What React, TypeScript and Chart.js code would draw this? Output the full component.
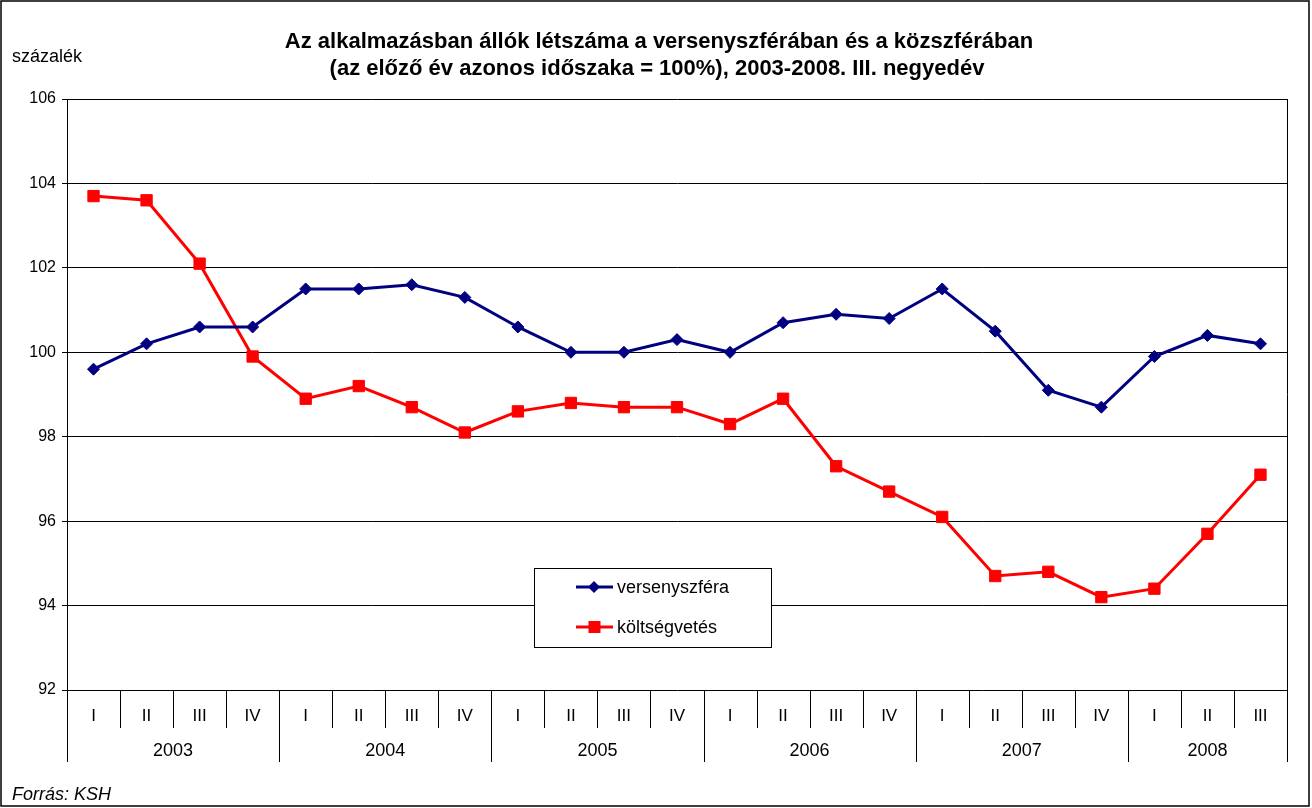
import React, { useEffect, useRef } from "react";
import { Chart, registerables } from "chart.js";

Chart.register(...registerables);

const quarters = ["I","II","III","IV","I","II","III","IV","I","II","III","IV","I","II","III","IV","I","II","III","IV","I","II","III"];
const years = ["2003","2004","2005","2006","2007","2008"];
const yearSpans = [4, 4, 4, 4, 4, 3];
const versenyszfera = [99.6,100.2,100.6,100.6,101.5,101.5,101.6,101.3,100.6,100.0,100.0,100.3,100.0,100.7,100.9,100.8,101.5,100.5,99.1,98.7,99.9,100.4,100.2];
const koltsegvetes = [103.7,103.6,102.1,99.9,98.9,99.2,98.7,98.1,98.6,98.8,98.7,98.7,98.3,98.9,97.3,96.7,96.1,94.7,94.8,94.2,94.4,95.7,97.1];
const seriesNames = ["versenyszféra", "költségvetés"];
const titleLines = ["Az alkalmazásban állók létszáma a versenyszférában és a közszférában", "(az előző év azonos időszaka = 100%), 2003-2008. III. negyedév"];
const yUnit = "százalék";
const source = "Forrás: KSH";

const FONT = "'Liberation Sans', Arial, sans-serif";
const BLUE = "#000080";
const RED = "#FF0000";

export default function App() {
  const ref = useRef<HTMLCanvasElement>(null);
  useEffect(() => {
    const canvas = ref.current!;
    const deco = {
      id: "deco",
      beforeDraw(chart: any) {
        const c = chart.ctx;
        c.save();
        c.fillStyle = "#fff";
        c.fillRect(0, 0, chart.width, chart.height);
        c.restore();
      },
      afterDraw(chart: any) {
        const c = chart.ctx;
        const x = chart.scales.x;
        const area = chart.chartArea;
        c.save();
        // outer frame
        c.strokeStyle = "#000";
        c.lineWidth = 1.5;
        c.strokeRect(1, 1, 1308, 805);
        // right border of plot
        c.lineWidth = 1;
        c.strokeStyle = "#000";
        c.beginPath();
        c.moveTo(Math.round(area.right) + 0.5, area.top);
        c.lineTo(Math.round(area.right) + 0.5, area.bottom);
        c.stroke();
        // category separators
        const n = quarters.length;
        const step = (x.getPixelForValue(1) - x.getPixelForValue(0));
        const yearStarts: number[] = [];
        let acc = 0;
        for (const s of yearSpans) { yearStarts.push(acc); acc += s; }
        yearStarts.push(acc);
        c.strokeStyle = "#000";
        c.lineWidth = 1;
        for (let i = 0; i <= n; i++) {
          const px = Math.round(x.getPixelForValue(i) - step / 2) + 0.5;
          const isYear = yearStarts.includes(i);
          c.beginPath();
          c.moveTo(px, area.bottom);
          c.lineTo(px, isYear ? area.bottom + 72 : area.bottom + 38);
          c.stroke();
        }
        // quarter labels
        c.fillStyle = "#000";
        c.font = `17px ${FONT}`;
        c.textAlign = "center";
        c.textBaseline = "middle";
        for (let i = 0; i < n; i++) {
          c.fillText(quarters[i], x.getPixelForValue(i), area.bottom + 26);
        }
        // year labels
        c.font = `18px ${FONT}`;
        for (let k = 0; k < years.length; k++) {
          const a = x.getPixelForValue(yearStarts[k]) - step / 2;
          const b = x.getPixelForValue(yearStarts[k + 1]) - step / 2;
          c.fillText(years[k], (a + b) / 2, area.bottom + 61);
        }
        // title
        c.font = `bold 22px ${FONT}`;
        c.fillText(titleLines[0], 659, 42);
        c.fillText(titleLines[1], 657, 69);
        // unit label
        c.font = `18px ${FONT}`;
        c.textAlign = "left";
        c.fillText(yUnit, 12, 57);
        // source
        c.font = `italic 18px ${FONT}`;
        c.fillText(source, 12, 795);
        // legend
        const lx = 534.5, ly = 568.5, lw = 237, lh = 79;
        c.fillStyle = "#fff";
        c.fillRect(lx, ly, lw, lh);
        c.strokeStyle = "#000";
        c.lineWidth = 1;
        c.strokeRect(lx, ly, lw, lh);
        const entries = [
          { name: seriesNames[0], color: BLUE, y: 587, style: "diamond" },
          { name: seriesNames[1], color: RED, y: 627, style: "square" },
        ];
        for (const e of entries) {
          c.strokeStyle = e.color;
          c.lineWidth = 3;
          c.beginPath();
          c.moveTo(576, e.y);
          c.lineTo(613, e.y);
          c.stroke();
          c.fillStyle = e.color;
          c.beginPath();
          if (e.style === "diamond") {
            c.moveTo(594, e.y - 6);
            c.lineTo(600, e.y);
            c.lineTo(594, e.y + 6);
            c.lineTo(588, e.y);
            c.closePath();
          } else {
            c.rect(588.5, e.y - 6, 12, 12);
          }
          c.fill();
          c.fillStyle = "#000";
          c.font = `18px ${FONT}`;
          c.textAlign = "left";
          c.textBaseline = "middle";
          c.fillText(e.name, 617, e.y + 1);
        }
        c.restore();
      },
    };

    const chart = new Chart(canvas, {
      type: "line",
      data: {
        labels: quarters.map((q, i) => `${q}-${i}`),
        datasets: [
          {
            label: seriesNames[0],
            data: versenyszfera,
            borderColor: BLUE,
            backgroundColor: BLUE,
            borderWidth: 3,
            pointStyle: "rectRot",
            pointRadius: 6,
            pointBorderWidth: 1,
            tension: 0,
          },
          {
            label: seriesNames[1],
            data: koltsegvetes,
            borderColor: RED,
            backgroundColor: RED,
            borderWidth: 3,
            pointStyle: "rect",
            pointRadius: 8,
            pointBorderWidth: 1,
            tension: 0,
          },
        ],
      },
      options: {
        responsive: false,
        animation: false,
        layout: { padding: { left: 0, top: 99, right: 25, bottom: 118 } },
        plugins: { legend: { display: false }, title: { display: false }, tooltip: { enabled: false } },
        scales: {
          x: {
            display: false,
            offset: true,
          },
          y: {
            min: 92,
            max: 106,
            ticks: { stepSize: 2, color: "#000", font: { family: FONT, size: 16 }, padding: 6 },
            grid: { color: "#000", lineWidth: 1, tickLength: 5, tickColor: "#000" },
            border: { color: "#000", width: 1 },
            afterFit: (s: any) => { s.width = 67; },
          },
        },
      },
      plugins: [deco],
    });
    return () => chart.destroy();
  }, []);
  return (
    <div style={{ position: "absolute", left: 0, top: 0, width: 1312, height: 808 }}>
      <canvas ref={ref} width={1312} height={808} />
    </div>
  );
}
